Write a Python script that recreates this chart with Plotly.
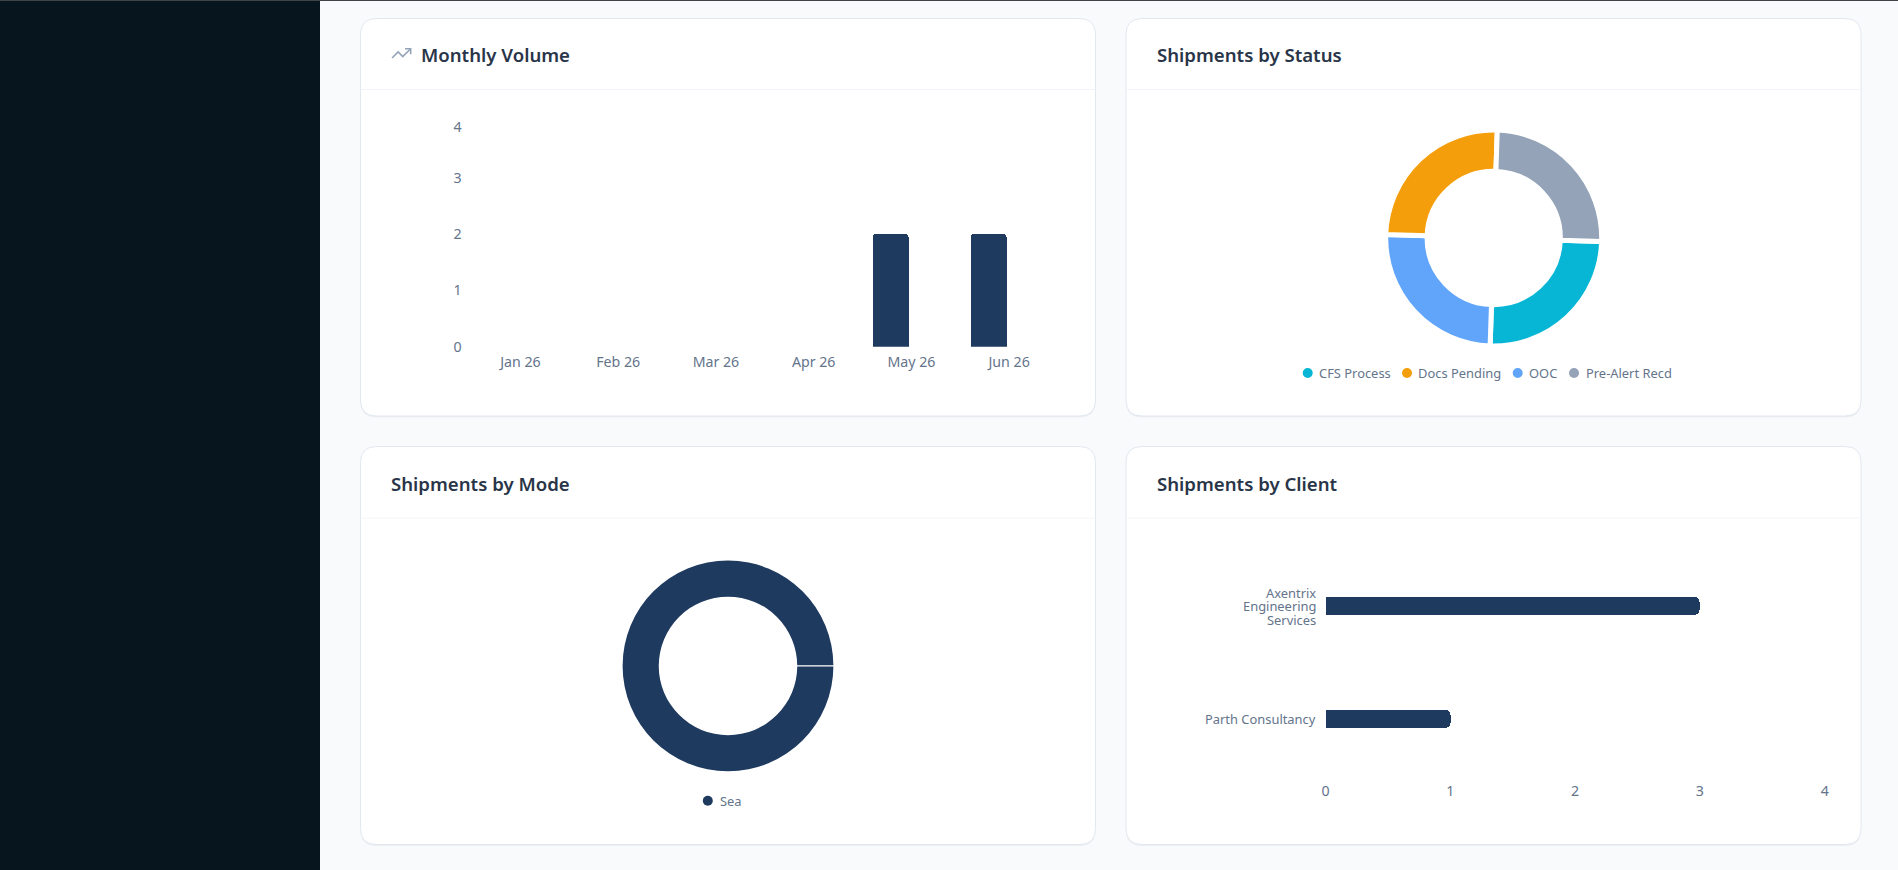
import plotly.graph_objects as go

W, H = 1898, 870

# Chart data
months = ["Jan 26", "Feb 26", "Mar 26", "Apr 26", "May 26", "Jun 26"]
monthly_counts = [0, 0, 0, 0, 2, 2]
count_ticks = [0, 1, 2, 3, 4]

status_slices = ["CFS Process", "OOC", "Docs Pending", "Pre-Alert Recd"]
status_counts = [1, 1, 1, 1]
status_legend = ["CFS Process", "Docs Pending", "OOC", "Pre-Alert Recd"]

modes = ["Sea"]
mode_counts = [4]

clients = ["Axentrix Engineering Services", "Parth Consultancy"]
client_label_lines = [["Axentrix", "Engineering", "Services"], ["Parth Consultancy"]]
client_counts = [3, 1]

# Palette
NAVY = "#1e3a5f"
STATUS_COLORS = {
    "CFS Process": "#06b6d4",
    "Docs Pending": "#f59e0b",
    "OOC": "#60a5fa",
    "Pre-Alert Recd": "#94a3b8",
}
TITLE = "#293548"
MUTED = "#64748b"
FONT = "Noto Sans"
AXIS_SIZE = 14.2
LABEL_SIZE = 12.9


def fx(x):
    return x / W


def fy(y):
    return 1 - y / H


def xdom(a, b):
    return [fx(a), fx(b)]


def ydom(top, bottom):
    return [fy(bottom), fy(top)]


def rounded(x0, y0, x1, y1, r):
    return (
        f"M{fx(x0 + r)},{fy(y0)} L{fx(x1 - r)},{fy(y0)} "
        f"Q{fx(x1)},{fy(y0)} {fx(x1)},{fy(y0 + r)} L{fx(x1)},{fy(y1 - r)} "
        f"Q{fx(x1)},{fy(y1)} {fx(x1 - r)},{fy(y1)} L{fx(x0 + r)},{fy(y1)} "
        f"Q{fx(x0)},{fy(y1)} {fx(x0)},{fy(y1 - r)} L{fx(x0)},{fy(y0 + r)} "
        f"Q{fx(x0)},{fy(y0)} {fx(x0 + r)},{fy(y0)} Z"
    )


shapes = []
annotations = []


def text(x, y, s, size, color, anchor="left", weight=400, **kw):
    annotations.append(dict(
        x=fx(x), y=fy(y), xref="paper", yref="paper", text=s, showarrow=False,
        xanchor=anchor, yanchor="middle", borderpad=0,
        font=dict(family=FONT, size=size, color=color, weight=weight), **kw,
    ))


def legend_item(cx, cy, text_x, label, color):
    shapes.append(dict(type="circle", xref="paper", yref="paper", layer="above",
                       x0=fx(cx - 5), x1=fx(cx + 5), y0=fy(cy + 5), y1=fy(cy - 5),
                       fillcolor=color, line=dict(width=0)))
    text(text_x, cy, label, LABEL_SIZE, MUTED)


# Sidebar and top rule
shapes.append(dict(type="rect", xref="paper", yref="paper", layer="below",
                   x0=0, x1=fx(320), y0=0, y1=1, fillcolor="#07151f", line=dict(width=0)))
shapes.append(dict(type="rect", xref="paper", yref="paper", layer="below",
                   x0=0, x1=1, y0=fy(1), y1=1, fillcolor="#3f4347", line=dict(width=0)))

# Cards
cards = [
    (360.5, 18.5, 1095.5, 416, 89.5, "Monthly Volume", 420),
    (1126, 18.5, 1861, 416, 89.5, "Shipments by Status", 1155.5),
    (360.5, 446.5, 1095.5, 844.5, 518, "Shipments by Mode", 390),
    (1126, 446.5, 1861, 844.5, 518, "Shipments by Client", 1155.5),
]
for x0, y0, x1, y1, rule, title, tx in cards:
    shapes.append(dict(type="path", xref="paper", yref="paper", layer="below",
                       path=rounded(x0, y0 + 1.5, x1, y1 + 1.5, 16),
                       fillcolor="rgba(15,23,42,0.05)", line=dict(width=0)))
    shapes.append(dict(type="path", xref="paper", yref="paper", layer="below",
                       path=rounded(x0, y0, x1, y1, 16),
                       fillcolor="#ffffff", line=dict(color="#e2e8f0", width=1)))
    shapes.append(dict(type="line", xref="paper", yref="paper", layer="below",
                       x0=fx(x0), x1=fx(x1), y0=fy(rule), y1=fy(rule),
                       line=dict(color="#f1f5f9", width=1)))
    text(tx, (y0 + rule) / 2 + 1, title, 18.6, TITLE, weight=600)

# Trend icon next to the first card title
icon_lines = [
    [(22, 7), (13.5, 15.5), (8.5, 10.5), (2, 17)],
    [(16, 7), (22, 7), (22, 13)],
]
for line in icon_lines:
    pts = [(390.2 + 0.93 * px, 42.2 + 0.93 * py) for px, py in line]
    path = "M" + " L".join(f"{fx(a)},{fy(b)}" for a, b in pts)
    shapes.append(dict(type="path", xref="paper", yref="paper", layer="above", path=path,
                       line=dict(color="#94a3b8", width=1.6)))

fig = go.Figure()

# Monthly volume columns sit left of their month slot
fig.add_trace(go.Bar(
    x=months, y=monthly_counts, width=0.368, offset=-0.394,
    marker=dict(color=NAVY, cornerradius=4, line=dict(width=0)),
    xaxis="x", yaxis="y", showlegend=False,
))

# Status ring
fig.add_trace(go.Pie(
    labels=status_slices, values=status_counts, sort=False, direction="clockwise",
    rotation=91.9, hole=0.617, textinfo="none", showlegend=False,
    marker=dict(colors=[STATUS_COLORS[s] for s in status_slices],
                line=dict(color="#ffffff", width=5)),
    domain=dict(x=xdom(1493.7 - 108, 1493.7 + 108), y=ydom(238 - 108, 238 + 108)),
))

# Mode ring
fig.add_trace(go.Pie(
    labels=modes, values=mode_counts, sort=False, hole=0.657, textinfo="none",
    showlegend=False, marker=dict(colors=[NAVY], line=dict(width=0)),
    domain=dict(x=xdom(728 - 105.4, 728 + 105.4), y=ydom(665.9 - 105.4, 665.9 + 105.4)),
))

# Client bars
fig.add_trace(go.Bar(
    x=client_counts, y=clients, orientation="h", width=0.16,
    marker=dict(color=NAVY, cornerradius=5, line=dict(width=0)),
    xaxis="x2", yaxis="y2", showlegend=False,
))

# Seam where the full ring closes
shapes.append(dict(type="line", xref="paper", yref="paper", layer="above",
                   x0=fx(728 + 69), x1=fx(728 + 106), y0=fy(665.9), y1=fy(665.9),
                   line=dict(color="#ffffff", width=1.2)))

# Ring legends
status_legend_pos = {
    "CFS Process": (1307.7, 1317.7),
    "Docs Pending": (1407, 1416.7),
    "OOC": (1517.7, 1527.5),
    "Pre-Alert Recd": (1574, 1585),
}
for name in status_legend:
    cx, tx = status_legend_pos[name]
    legend_item(cx, 373, tx, name, STATUS_COLORS[name])
legend_item(707.8, 800.8, 718.5, modes[0], NAVY)

# Client names are stacked tightly beside the bars
for i, lines in enumerate(client_label_lines):
    for j, line in enumerate(lines):
        annotations.append(dict(
            x=0, y=clients[i], xref="x2", yref="y2", text=line, showarrow=False,
            xanchor="right", yanchor="middle", xshift=-8,
            yshift=(len(lines) - 1) / 2 * 13.5 - j * 13.5,
            font=dict(family=FONT, size=LABEL_SIZE, color=MUTED),
        ))

# The top count label is held inside the plot area
count_tick_positions = [0, 1, 2, 2.98, 3.89]

fig.update_layout(
    width=W, height=H, autosize=False,
    margin=dict(l=0, r=0, t=0, b=0, pad=0, autoexpand=False),
    paper_bgcolor="#f8fafc", plot_bgcolor="rgba(0,0,0,0)",
    font=dict(family=FONT, size=AXIS_SIZE, color=MUTED),
    shapes=shapes, annotations=annotations, bargap=0,
    xaxis=dict(
        domain=xdom(471.6, 1058), type="category", categoryorder="array", categoryarray=months,
        range=[-0.5, 5.5], showgrid=False, zeroline=False, showline=False, ticks="",
        ticklabelstandoff=5, fixedrange=True, automargin=False,
    ),
    yaxis=dict(
        domain=ydom(120.7, 346.7), range=[0, 4], showgrid=False, zeroline=False, showline=False,
        tickmode="array", tickvals=count_tick_positions, ticktext=[str(t) for t in count_ticks],
        ticks="", ticklabelstandoff=9, fixedrange=True, automargin=False,
    ),
    xaxis2=dict(
        domain=xdom(1325.5, 1824.7), anchor="y2", range=[0, 4], showgrid=False, zeroline=False,
        showline=False, tickmode="array", tickvals=count_ticks, ticks="", ticklabelstandoff=5,
        fixedrange=True, automargin=False,
    ),
    yaxis2=dict(
        domain=ydom(549.8, 775.3), anchor="x2", type="category", categoryorder="array",
        categoryarray=clients, range=[1.5, -0.5], showgrid=False, zeroline=False, showline=False,
        showticklabels=False, ticks="", fixedrange=True, automargin=False,
    ),
)

fig.write_html("out.html", config=dict(displayModeBar=False))
